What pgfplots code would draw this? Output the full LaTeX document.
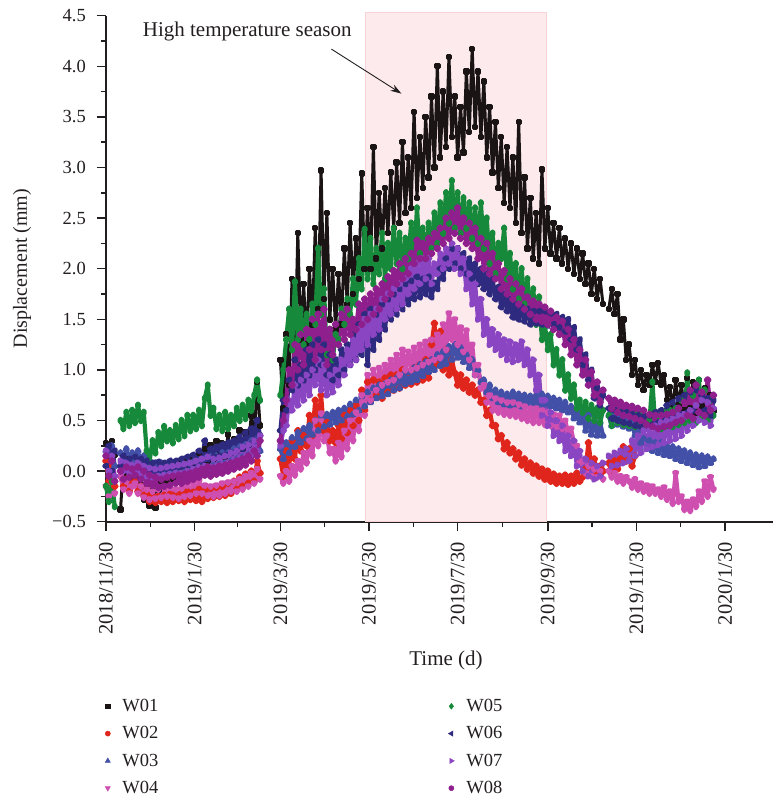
\documentclass[border=0pt]{standalone}
\usepackage{fontspec}
\setmainfont{Liberation Serif}
\usepackage{pgfplots}
\pgfplotsset{compat=1.18}
\usetikzlibrary{arrows.meta}

\definecolor{cWa}{HTML}{1A1414}
\definecolor{cWb}{HTML}{E0261C}
\definecolor{cWc}{HTML}{4350A8}
\definecolor{cWd}{HTML}{CF4FB0}
\definecolor{cWe}{HTML}{168A3A}
\definecolor{cWf}{HTML}{2E2A80}
\definecolor{cWg}{HTML}{8A45C2}
\definecolor{cWh}{HTML}{8F1F8C}
\definecolor{seasonfill}{HTML}{FDEAEC}
\definecolor{seasonedge}{HTML}{F8D3D8}
\definecolor{ink}{HTML}{231F20}

\pgfplotsset{
  series/.style={line width=4.2pt, line join=round, mark size=1.7pt, mark options={solid}, forget plot},
}

\begin{document}
\begin{tikzpicture}
\begin{axis}[
  scale only axis, width=667pt, height=506pt,
  xmin=0, xmax=459, ymin=-0.5, ymax=4.5,
  axis x line=bottom, axis y line=left,
  axis line style={line width=1.8pt, ink, -},
  every outer x axis line/.append style={-},
  every outer y axis line/.append style={-},
  tick align=outside,
  major tick length=9pt, minor tick length=5pt,
  tick style={line width=1.5pt, ink},
  xtick={0,61,120,181,242,304,365,426},
  xticklabels={2018/11/30,2019/1/30,2019/3/30,2019/5/30,2019/7/30,2019/9/30,2019/11/30,2020/1/30},
  minor xtick={30.5,90.5,150.5,211.5,273,334.5,395.5},
  ytick={-0.5,0,...,4.5},
  yticklabels={−0.5,0.0,0.5,1.0,1.5,2.0,2.5,3.0,3.5,4.0,4.5},
  minor ytick={-0.25,0.25,...,4.25},
  xticklabel style={rotate=90, anchor=east, font=\fontsize{20.5}{24}\selectfont, text=ink, inner sep=0pt, xshift=-11pt},
  yticklabel style={anchor=east, font=\fontsize{18.5}{22}\selectfont, text=ink, inner sep=0pt, xshift=-11pt},
  xlabel={Time (d)},
  ylabel={Displacement (mm)},
  xlabel style={at={(axis description cs:0.5097,-0.2733)}, anchor=center, font=\fontsize{21}{25}\selectfont, text=ink},
  ylabel style={at={(axis description cs:-0.1259,0.5)}, anchor=center, font=\fontsize{20}{24}\selectfont, text=ink},
  unbounded coords=jump, clip=false,
  legend columns=2,
  legend cell align=left,
  legend style={at={(axis description cs:0,-0.33)}, anchor=north west, draw=none, fill=none,
    xshift=-4pt, yshift=-6.5pt,
    font=\fontsize{18.5}{22}\selectfont, text=ink, row sep=9.5pt,
    /tikz/every odd column/.append style={column sep=10pt},
    /tikz/every even column/.append style={column sep=288pt}},
]

% high temperature season
\addplot[fill=seasonfill, draw=seasonedge, line width=0.6pt, forget plot]
  coordinates {(178.5,-0.5) (178.5,4.53) (303,4.53) (303,-0.5)} -- cycle;

% W01
\addplot[cWa, series, line width=3pt, mark=square*, mark size=1.7pt]
  table[row sep=\\, header=false, y index=0, x expr=\coordindex*2] {
0.28\\0.12\\0.30\\0.16\\nan\\-0.38\\0.08\\-0.05\\0.12\\-0.08\\
0.05\\-0.10\\0.00\\-0.28\\-0.16\\-0.34\\-0.20\\-0.36\\-0.18\\-0.10\\
-0.05\\-0.12\\0.02\\-0.08\\0.06\\-0.04\\0.10\\0.00\\0.12\\0.02\\
0.14\\0.04\\0.18\\0.08\\0.22\\0.10\\0.26\\0.12\\0.30\\0.16\\
0.28\\0.14\\0.36\\0.18\\0.32\\0.20\\0.40\\0.22\\0.38\\0.26\\
0.55\\0.30\\0.88\\0.45\\nan\\nan\\nan\\nan\\nan\\nan\\
1.10\\0.62\\1.35\\0.85\\1.90\\1.10\\2.35\\1.30\\1.85\\1.25\\
2.00\\1.45\\2.40\\1.60\\2.97\\1.70\\2.55\\1.50\\2.00\\1.40\\
1.95\\1.45\\2.20\\1.65\\2.45\\1.75\\2.30\\1.90\\2.94\\2.00\\
2.60\\2.00\\3.20\\2.10\\2.75\\2.20\\2.80\\2.35\\2.95\\2.40\\
3.05\\2.45\\3.25\\2.55\\3.10\\2.60\\3.55\\2.70\\3.30\\2.80\\
3.50\\2.90\\3.70\\3.00\\4.00\\3.10\\3.75\\3.20\\4.09\\3.30\\
3.70\\3.10\\3.60\\3.15\\3.95\\3.35\\4.17\\3.40\\3.95\\3.30\\
3.85\\3.10\\3.60\\2.95\\3.45\\2.80\\3.30\\2.65\\3.20\\2.60\\
3.10\\2.45\\3.45\\2.35\\2.90\\2.20\\2.70\\2.10\\2.55\\2.05\\
2.98\\2.20\\2.60\\2.15\\2.45\\2.10\\2.40\\2.05\\2.30\\2.00\\
2.25\\1.95\\2.20\\1.90\\2.15\\1.85\\2.05\\1.75\\2.00\\1.70\\
1.90\\1.65\\nan\\1.60\\1.80\\1.55\\1.75\\1.30\\1.50\\1.10\\
1.25\\0.95\\1.10\\0.85\\1.00\\0.80\\0.95\\0.85\\1.05\\0.88\\
1.07\\0.85\\0.95\\0.70\\0.83\\0.62\\0.90\\0.65\\0.85\\0.60\\
0.92\\0.62\\0.88\\0.58\\0.90\\0.65\\0.82\\0.55\\0.75\\0.60\\
};

% W02
\addplot[cWb, series, mark=*]
  table[row sep=\\, header=false, y index=0, x expr=\coordindex*2] {
0.10\\-0.10\\0.05\\-0.15\\nan\\-0.05\\-0.15\\-0.08\\-0.20\\-0.12\\
-0.10\\-0.20\\-0.15\\-0.24\\-0.22\\-0.30\\-0.24\\-0.31\\-0.25\\-0.30\\
-0.24\\-0.31\\-0.23\\-0.30\\-0.22\\-0.29\\-0.22\\-0.30\\-0.20\\-0.28\\
-0.21\\-0.29\\-0.18\\-0.30\\-0.20\\-0.27\\-0.17\\-0.26\\-0.16\\-0.25\\
-0.15\\-0.24\\-0.12\\-0.22\\-0.10\\-0.18\\-0.06\\-0.15\\-0.03\\-0.12\\
0.00\\-0.10\\0.10\\-0.02\\nan\\nan\\nan\\nan\\nan\\nan\\
0.12\\-0.05\\0.20\\0.05\\0.30\\0.12\\0.40\\0.20\\0.35\\0.25\\
0.55\\0.35\\0.70\\0.45\\0.75\\0.40\\0.48\\0.30\\0.40\\0.28\\
0.45\\0.32\\0.55\\0.38\\0.60\\0.45\\0.65\\0.50\\0.80\\0.60\\
0.88\\0.70\\0.90\\0.75\\0.88\\0.72\\0.92\\0.78\\0.95\\0.80\\
0.95\\0.82\\1.00\\0.85\\0.98\\0.86\\1.02\\0.88\\1.05\\0.90\\
1.10\\0.92\\1.25\\1.46\\1.05\\1.38\\1.00\\1.20\\0.95\\1.10\\
0.97\\0.85\\0.95\\0.82\\0.90\\0.78\\0.85\\0.75\\0.80\\0.68\\
0.70\\0.55\\0.60\\0.45\\0.45\\0.32\\0.35\\0.22\\0.28\\0.18\\
0.22\\0.12\\0.18\\0.06\\0.12\\0.02\\0.08\\-0.02\\0.05\\-0.05\\
0.02\\-0.08\\0.00\\-0.10\\-0.03\\-0.12\\-0.05\\-0.12\\-0.04\\-0.13\\
-0.05\\-0.12\\-0.02\\-0.10\\-0.06\\0.02\\0.28\\0.05\\0.12\\-0.02\\
0.05\\0.00\\nan\\0.08\\-0.02\\0.10\\0.02\\0.12\\0.24\\0.10\\
0.22\\0.05\\0.15\\
};

% W03
\addplot[cWc, series, mark=triangle*]
  table[row sep=\\, header=false, y index=0, x expr=\coordindex*2] {
0.20\\0.00\\0.25\\0.05\\nan\\0.18\\0.10\\0.22\\0.08\\0.18\\
0.10\\0.20\\0.05\\0.15\\0.02\\0.10\\0.00\\0.08\\-0.02\\0.08\\
0.06\\-0.02\\0.07\\0.00\\0.05\\-0.01\\0.06\\0.00\\0.07\\0.01\\
0.09\\0.02\\0.10\\0.03\\0.12\\0.04\\0.14\\0.06\\0.15\\0.07\\
0.18\\0.08\\0.18\\0.10\\0.22\\0.12\\0.24\\0.14\\0.26\\0.16\\
0.30\\0.18\\0.32\\0.20\\nan\\nan\\nan\\nan\\nan\\nan\\
0.22\\0.12\\0.28\\0.18\\0.33\\0.24\\0.38\\0.28\\0.42\\0.32\\
0.45\\0.36\\0.50\\0.40\\0.55\\0.44\\0.56\\0.46\\0.58\\0.48\\
0.60\\0.50\\0.62\\0.54\\0.66\\0.56\\0.70\\0.60\\0.74\\0.64\\
0.78\\0.68\\0.82\\0.72\\0.85\\0.74\\0.86\\0.76\\0.90\\0.80\\
0.92\\0.82\\0.95\\0.86\\0.98\\0.88\\1.02\\0.90\\1.05\\0.94\\
1.08\\0.98\\1.10\\1.00\\1.15\\1.04\\1.18\\1.06\\1.23\\1.10\\
1.25\\1.12\\1.22\\1.08\\1.15\\1.02\\1.10\\0.95\\1.00\\0.88\\
0.90\\0.78\\0.85\\0.72\\0.80\\0.68\\0.78\\0.66\\0.76\\0.65\\
0.78\\0.66\\0.76\\0.64\\0.75\\0.65\\0.74\\0.63\\0.75\\0.64\\
0.76\\0.66\\0.74\\0.64\\0.72\\0.62\\0.70\\0.60\\0.68\\0.58\\
0.64\\0.52\\0.60\\0.48\\0.58\\0.40\\0.55\\0.36\\0.50\\0.35\\
0.48\\0.35\\nan\\0.55\\0.45\\0.58\\0.46\\0.55\\0.44\\0.52\\
0.42\\0.48\\0.35\\0.40\\0.28\\0.32\\0.22\\0.30\\0.20\\0.28\\
0.18\\0.28\\0.16\\0.25\\0.15\\0.24\\0.12\\0.22\\0.10\\0.20\\
0.08\\0.18\\0.06\\0.16\\0.04\\0.15\\0.05\\0.14\\0.08\\0.12\\
};

% W04
\addplot[cWd, series, mark=triangle*, mark options={rotate=180}]
  table[row sep=\\, header=false, y index=0, x expr=\coordindex*2] {
-0.15\\-0.25\\-0.10\\-0.22\\nan\\-0.05\\-0.18\\-0.10\\-0.22\\-0.15\\
-0.12\\-0.22\\-0.15\\-0.26\\-0.18\\-0.28\\-0.20\\-0.27\\-0.18\\-0.26\\
-0.15\\-0.25\\-0.16\\-0.26\\-0.18\\-0.27\\-0.17\\-0.25\\-0.14\\-0.24\\
-0.12\\-0.22\\-0.10\\-0.22\\-0.14\\-0.24\\-0.15\\-0.25\\-0.14\\-0.24\\
-0.12\\-0.22\\-0.11\\-0.20\\-0.10\\-0.20\\-0.08\\-0.18\\-0.05\\-0.15\\
-0.02\\-0.12\\0.02\\-0.08\\nan\\nan\\nan\\nan\\nan\\nan\\
-0.05\\-0.12\\0.00\\-0.10\\0.05\\-0.04\\0.10\\0.02\\0.18\\0.08\\
0.30\\0.15\\0.50\\0.25\\0.57\\0.30\\0.35\\0.18\\0.22\\0.10\\
0.28\\0.14\\0.40\\0.22\\0.50\\0.30\\0.58\\0.40\\0.75\\0.55\\
0.95\\0.70\\1.00\\0.80\\1.02\\0.85\\1.05\\0.88\\1.10\\0.90\\
1.15\\0.95\\1.20\\1.00\\1.18\\1.00\\1.22\\1.02\\1.25\\1.05\\
1.28\\1.08\\1.30\\1.10\\1.35\\1.12\\1.45\\1.20\\1.56\\1.30\\
1.50\\1.25\\1.42\\1.18\\1.39\\1.10\\1.25\\0.95\\1.05\\0.82\\
0.85\\0.68\\0.75\\0.60\\0.72\\0.58\\0.70\\0.56\\0.68\\0.55\\
0.68\\0.54\\0.66\\0.52\\0.64\\0.50\\0.62\\0.48\\0.62\\0.48\\
0.60\\0.46\\0.58\\0.45\\0.56\\0.44\\0.55\\0.42\\0.50\\0.38\\
0.42\\0.28\\0.25\\0.08\\0.10\\-0.02\\0.05\\-0.05\\0.02\\-0.06\\
0.00\\-0.08\\nan\\0.00\\-0.06\\-0.02\\-0.10\\-0.05\\-0.12\\-0.06\\
-0.10\\-0.16\\-0.08\\-0.18\\-0.12\\-0.20\\-0.14\\-0.22\\-0.15\\-0.22\\
-0.18\\-0.25\\-0.16\\-0.28\\-0.20\\-0.32\\-0.02\\-0.30\\-0.25\\-0.38\\
-0.30\\-0.39\\-0.28\\-0.35\\-0.20\\-0.30\\-0.10\\-0.25\\-0.06\\-0.18\\
};

% W05
\addplot[cWe, series, mark=diamond*]
  table[row sep=\\, header=false, y index=0, x expr=\coordindex*2] {
-0.15\\-0.30\\-0.10\\-0.35\\nan\\0.50\\0.42\\0.58\\0.45\\0.60\\
0.48\\0.65\\0.50\\0.58\\0.20\\0.10\\0.30\\0.18\\0.38\\0.25\\
0.44\\0.30\\0.40\\0.28\\0.45\\0.32\\0.50\\0.35\\0.55\\0.40\\
0.55\\0.42\\0.60\\0.45\\0.72\\0.85\\0.55\\0.62\\0.42\\0.55\\
0.40\\0.58\\0.42\\0.55\\0.45\\0.62\\0.50\\0.65\\0.52\\0.70\\
0.60\\0.75\\0.90\\0.70\\nan\\nan\\nan\\nan\\nan\\nan\\
0.75\\1.00\\1.30\\1.60\\1.20\\1.87\\1.30\\1.60\\1.25\\1.55\\
1.30\\1.65\\1.45\\2.20\\1.55\\1.80\\1.15\\1.40\\1.10\\1.35\\
1.30\\1.60\\1.45\\1.70\\1.55\\1.90\\1.65\\2.10\\1.80\\2.39\\
1.90\\2.30\\1.85\\2.20\\1.95\\2.35\\1.90\\2.25\\2.00\\2.40\\
2.05\\2.35\\2.00\\2.30\\2.10\\2.45\\2.05\\2.60\\2.15\\2.40\\
2.10\\2.45\\2.20\\2.55\\2.25\\2.65\\2.35\\2.75\\2.45\\2.87\\
2.40\\2.75\\2.35\\2.70\\2.40\\2.65\\2.30\\2.60\\2.25\\2.65\\
2.20\\2.50\\2.05\\2.35\\1.95\\2.25\\2.10\\2.40\\1.90\\2.15\\
1.80\\2.05\\1.70\\2.00\\1.65\\1.90\\1.55\\1.80\\1.45\\1.72\\
1.30\\1.45\\1.20\\1.35\\1.05\\1.20\\0.95\\1.10\\0.80\\0.95\\
0.72\\0.85\\0.62\\0.70\\0.58\\0.68\\0.52\\0.65\\0.50\\0.62\\
0.48\\0.60\\nan\\0.55\\0.45\\0.60\\0.48\\0.58\\0.46\\0.57\\
0.45\\0.55\\0.44\\0.56\\0.45\\0.55\\0.44\\0.50\\0.88\\0.45\\
0.55\\0.42\\0.58\\0.45\\0.60\\0.44\\0.62\\0.46\\0.70\\0.48\\
0.97\\0.50\\0.75\\0.48\\0.90\\0.52\\0.80\\0.50\\0.70\\0.55\\
};

% W06
\addplot[cWf, series, mark=triangle*, mark options={rotate=90}]
  table[row sep=\\, header=false, y index=0, x expr=\coordindex*2] {
0.05\\0.25\\0.00\\0.20\\nan\\0.05\\0.15\\0.02\\0.12\\0.05\\
0.14\\0.04\\0.12\\0.02\\0.10\\0.00\\0.08\\0.00\\0.09\\0.01\\
0.08\\0.02\\0.10\\0.03\\0.10\\0.04\\0.12\\0.05\\0.14\\0.06\\
0.16\\0.08\\0.20\\0.10\\0.30\\0.12\\0.22\\0.14\\0.24\\0.15\\
0.26\\0.16\\0.28\\0.18\\0.30\\0.20\\0.34\\0.22\\0.38\\0.26\\
0.42\\0.30\\0.50\\0.35\\nan\\nan\\nan\\nan\\nan\\nan\\
0.40\\0.70\\0.60\\0.90\\0.80\\1.10\\0.85\\1.05\\0.90\\1.20\\
0.95\\1.25\\1.00\\1.30\\1.05\\1.25\\0.95\\1.15\\0.90\\1.10\\
0.95\\1.20\\1.00\\1.25\\1.05\\1.35\\1.10\\1.45\\1.15\\1.55\\
1.05\\1.60\\1.20\\1.55\\1.30\\1.65\\1.40\\1.70\\1.50\\1.75\\
1.55\\1.80\\1.60\\1.85\\1.65\\1.88\\1.70\\1.92\\1.72\\1.90\\
1.75\\1.92\\1.72\\1.86\\1.80\\2.00\\1.90\\2.10\\2.00\\2.20\\
2.05\\2.20\\2.00\\2.15\\1.95\\2.10\\1.90\\2.05\\1.85\\2.00\\
1.80\\1.95\\1.75\\1.90\\1.70\\1.82\\1.62\\1.75\\1.58\\1.70\\
1.52\\1.65\\1.50\\1.62\\1.48\\1.60\\1.45\\1.58\\1.46\\1.58\\
1.45\\1.58\\1.44\\1.56\\1.45\\1.55\\1.42\\1.52\\1.38\\1.50\\
1.30\\1.42\\1.20\\1.30\\1.05\\1.15\\0.90\\1.00\\0.72\\0.82\\
0.65\\0.75\\nan\\0.62\\0.52\\0.60\\0.50\\0.58\\0.48\\0.58\\
0.47\\0.56\\0.45\\0.55\\0.44\\0.54\\0.45\\0.55\\0.46\\0.58\\
0.48\\0.60\\0.50\\0.65\\0.52\\0.68\\0.55\\0.72\\0.56\\0.75\\
0.58\\0.78\\0.60\\0.80\\0.58\\0.75\\0.60\\0.72\\0.55\\0.70\\
};

% W07
\addplot[cWg, series, mark=triangle*, mark options={rotate=-90}]
  table[row sep=\\, header=false, y index=0, x expr=\coordindex*2] {
0.20\\0.00\\0.15\\-0.05\\nan\\0.10\\0.00\\0.08\\-0.02\\0.06\\
0.00\\0.08\\-0.02\\0.05\\-0.05\\0.03\\-0.06\\0.02\\-0.05\\0.03\\
-0.04\\0.04\\-0.03\\0.05\\-0.02\\0.06\\-0.02\\0.07\\0.00\\0.08\\
0.02\\0.10\\0.04\\0.12\\0.05\\0.14\\0.04\\0.12\\0.05\\0.13\\
0.06\\0.15\\0.08\\0.18\\0.10\\0.20\\0.12\\0.24\\0.14\\0.26\\
0.16\\0.30\\0.20\\0.35\\nan\\nan\\nan\\nan\\nan\\nan\\
0.25\\0.40\\0.45\\0.70\\0.60\\0.85\\0.65\\0.90\\0.70\\0.95\\
0.75\\1.00\\0.85\\1.10\\0.80\\1.05\\0.75\\0.95\\0.78\\1.00\\
0.85\\1.10\\0.95\\1.20\\1.05\\1.30\\1.10\\1.40\\1.20\\1.50\\
1.25\\1.55\\1.35\\1.60\\1.40\\1.70\\1.50\\1.75\\1.55\\1.80\\
1.60\\1.85\\1.65\\1.90\\1.75\\2.00\\1.80\\2.05\\1.85\\2.10\\
1.90\\2.10\\1.85\\2.05\\1.95\\2.15\\2.00\\2.20\\2.05\\2.25\\
2.00\\2.20\\1.95\\2.10\\1.80\\1.95\\1.65\\1.85\\1.50\\1.70\\
1.35\\1.50\\1.25\\1.40\\1.20\\1.35\\1.15\\1.30\\1.10\\1.28\\
1.08\\1.25\\1.10\\1.28\\1.05\\1.20\\0.95\\1.10\\0.80\\0.95\\
0.55\\0.70\\0.45\\0.58\\0.35\\0.50\\0.30\\0.45\\0.20\\0.35\\
0.15\\0.30\\0.05\\0.20\\0.00\\0.12\\-0.05\\0.08\\-0.08\\0.05\\
-0.05\\0.08\\nan\\0.15\\0.05\\0.18\\0.06\\0.20\\0.08\\0.22\\
0.10\\0.30\\0.15\\0.35\\0.18\\0.40\\0.22\\0.42\\0.24\\0.45\\
0.26\\0.48\\0.28\\0.50\\0.30\\0.52\\0.32\\0.55\\0.35\\0.56\\
0.40\\0.60\\0.45\\0.65\\0.50\\0.70\\0.48\\0.68\\0.45\\0.62\\
};

% W08
\addplot[cWh, series, mark=*]
  table[row sep=\\, header=false, y index=0, x expr=\coordindex*2] {
0.15\\-0.05\\0.10\\-0.10\\nan\\0.00\\-0.08\\0.04\\-0.06\\0.02\\
-0.04\\0.04\\-0.08\\0.00\\-0.12\\-0.04\\-0.14\\-0.06\\-0.16\\-0.08\\
-0.15\\-0.06\\-0.14\\-0.05\\-0.12\\-0.04\\-0.12\\-0.03\\-0.10\\-0.02\\
-0.08\\0.00\\-0.06\\0.02\\-0.04\\0.04\\-0.05\\0.03\\-0.03\\0.05\\
-0.02\\0.06\\0.00\\0.08\\0.02\\0.10\\0.04\\0.12\\0.06\\0.15\\
0.10\\0.20\\0.15\\0.30\\nan\\nan\\nan\\nan\\nan\\nan\\
0.30\\0.50\\0.70\\1.00\\0.85\\1.25\\1.00\\1.35\\1.05\\1.40\\
1.20\\1.50\\1.10\\1.55\\1.20\\1.60\\1.05\\1.40\\1.15\\1.45\\
1.25\\1.55\\1.30\\1.60\\1.35\\1.50\\1.40\\1.65\\1.45\\1.70\\
1.50\\1.75\\1.55\\1.80\\1.60\\1.85\\1.70\\1.92\\1.75\\1.98\\
1.85\\2.05\\1.90\\2.10\\1.95\\2.15\\2.05\\2.28\\2.10\\2.25\\
2.10\\2.30\\2.15\\2.35\\2.20\\2.40\\2.25\\2.50\\2.30\\2.55\\
2.35\\2.60\\2.30\\2.50\\2.25\\2.45\\2.20\\2.40\\2.10\\2.30\\
2.00\\2.25\\1.95\\2.15\\1.90\\2.05\\1.80\\1.98\\1.75\\1.90\\
1.70\\1.85\\1.65\\1.80\\1.60\\1.72\\1.55\\1.68\\1.50\\1.65\\
1.48\\1.62\\1.45\\1.58\\1.40\\1.52\\1.35\\1.48\\1.25\\1.40\\
1.15\\1.30\\1.05\\1.20\\0.95\\1.10\\0.85\\0.98\\0.75\\0.88\\
0.68\\0.80\\nan\\0.72\\0.62\\0.70\\0.58\\0.68\\0.55\\0.65\\
0.54\\0.64\\0.52\\0.62\\0.50\\0.60\\0.46\\0.56\\0.44\\0.55\\
0.42\\0.55\\0.44\\0.56\\0.45\\0.58\\0.48\\0.62\\0.50\\0.68\\
0.55\\0.80\\0.52\\0.85\\0.58\\0.78\\0.55\\0.90\\0.60\\0.75\\
};

% legend, filled column by column
\addlegendimage{only marks, mark=square*, mark size=2.3pt, cWa}
\addlegendentry{W01}
\addlegendimage{only marks, mark=diamond*, mark size=3pt, cWe}
\addlegendentry{W05}
\addlegendimage{only marks, mark=*, mark size=2.6pt, cWb}
\addlegendentry{W02}
\addlegendimage{only marks, mark=triangle*, mark size=3pt, mark options={rotate=90}, cWf}
\addlegendentry{W06}
\addlegendimage{only marks, mark=triangle*, mark size=3pt, cWc}
\addlegendentry{W03}
\addlegendimage{only marks, mark=triangle*, mark size=3pt, mark options={rotate=-90}, cWg}
\addlegendentry{W07}
\addlegendimage{only marks, mark=triangle*, mark size=3pt, mark options={rotate=180}, cWd}
\addlegendentry{W04}
\addlegendimage{only marks, mark=*, mark size=2.6pt, cWh}
\addlegendentry{W08}

% annotation
\node[font=\fontsize{21}{25}\selectfont, text=ink] at (axis cs:97.2,4.34) {High temperature season};
\draw[ink, line width=0.9pt, -{Stealth[length=11pt,width=7pt]}] (axis cs:155.1,4.17) -- (axis cs:203.3,3.73);
\end{axis}
\pgfresetboundingbox
\path[use as bounding box] (-106pt,-275.3pt) rectangle (667pt,521.7pt);
\end{tikzpicture}
\end{document}
